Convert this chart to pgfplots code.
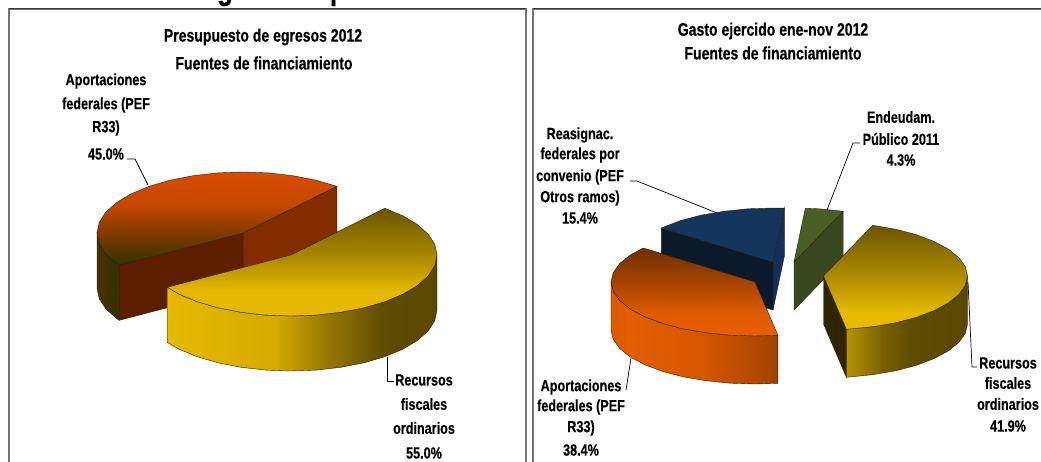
\documentclass[border=0pt]{standalone}
\usepackage{pgfplots}
\pgfplotsset{compat=1.18}
\usepackage{fontspec}
\newfontfamily\labfont{Liberation Sans}[FakeStretch=0.78,BoldFeatures={FakeBold=0.35}]

% Slice colours
\definecolor{yA}{HTML}{E6BA00}\definecolor{yB}{HTML}{E3B700}\definecolor{yC}{HTML}{B08D00}
\definecolor{yD}{HTML}{6B5500}\definecolor{yE}{HTML}{D5AB00}\definecolor{yF}{HTML}{957700}
\definecolor{yG}{HTML}{5F4C00}\definecolor{yH}{HTML}{5A4800}\definecolor{yI}{HTML}{B79300}
\definecolor{yJ}{HTML}{7A6100}\definecolor{yK}{HTML}{2F2600}
\definecolor{oA}{HTML}{D94C00}\definecolor{oB}{HTML}{C44700}\definecolor{oC}{HTML}{7F3A00}
\definecolor{oD}{HTML}{2E3400}\definecolor{oE}{HTML}{4A3000}\definecolor{oF}{HTML}{333000}
\definecolor{oG}{HTML}{5E1F00}\definecolor{oH}{HTML}{822C00}
\definecolor{rA}{HTML}{6E3000}\definecolor{rB}{HTML}{A84400}\definecolor{rC}{HTML}{E05C00}
\definecolor{rD}{HTML}{E85F00}\definecolor{rE}{HTML}{DA5900}\definecolor{rF}{HTML}{E55E00}
\definecolor{rG}{HTML}{D65700}\definecolor{rH}{HTML}{B54A00}\definecolor{rI}{HTML}{A24300}
\definecolor{bA}{HTML}{14355C}\definecolor{bB}{HTML}{0A1A2B}\definecolor{bC}{HTML}{12305A}
\definecolor{gA}{HTML}{4A5F25}\definecolor{gB}{HTML}{3A4820}
\definecolor{edge}{HTML}{2A2000}

% Shadings: the path's bounding box spans 25bp to 75bp
\pgfdeclareverticalshading{leftYellowTop}{100bp}{color(0bp)=(yA);color(25bp)=(yA);color(37bp)=(yB);color(51bp)=(yC);color(75bp)=(yD);color(100bp)=(yD)}
\pgfdeclarehorizontalshading{leftYellowWall}{100bp}{color(0bp)=(yA);color(25bp)=(yA);color(45bp)=(yE);color(55bp)=(yF);color(65bp)=(yG);color(75bp)=(yH);color(100bp)=(yH)}
\pgfdeclareverticalshading{leftOrangeTop}{100bp}{color(0bp)=(oD);color(25bp)=(oD);color(42bp)=(oC);color(57bp)=(oB);color(75bp)=(oA);color(100bp)=(oA)}
\pgfdeclarehorizontalshading{leftOrangeWall}{100bp}{color(0bp)=(oE);color(25bp)=(oE);color(75bp)=(oF);color(100bp)=(oF)}
\pgfdeclareverticalshading{rightYellowTop}{100bp}{color(0bp)=(yA);color(25bp)=(yA);color(33bp)=(yA);color(50bp)=(yC);color(75bp)=(yD);color(100bp)=(yD)}
\pgfdeclarehorizontalshading{rightYellowWall}{100bp}{color(0bp)=(yI);color(25bp)=(yI);color(40bp)=(yJ);color(52bp)=(yG);color(75bp)=(yH);color(100bp)=(yH)}
\pgfdeclareverticalshading{rightOrangeTop}{100bp}{color(0bp)=(rD);color(25bp)=(rD);color(37bp)=(rC);color(55bp)=(rB);color(75bp)=(rA);color(100bp)=(rA)}
\pgfdeclarehorizontalshading{rightOrangeWall}{100bp}{color(0bp)=(rE);color(25bp)=(rE);color(30bp)=(rF);color(52bp)=(rG);color(67bp)=(rH);color(75bp)=(rI);color(100bp)=(rI)}

\tikzset{
  lab/.style={inner sep=0pt,font=\labfont\bfseries\fontsize{16.2bp}{18bp}\selectfont,text=black,anchor=center},
  ttl/.style={inner sep=0pt,font=\labfont\bfseries\fontsize{18bp}{20bp}\selectfont,text=black,anchor=center},
  head/.style={inner sep=0pt,anchor=base,font=\labfont\bfseries\fontsize{34bp}{36bp}\selectfont}
}
\pgfplotsset{
  face/.style={shade,shading=#1,draw=edge,line width=0.4pt},
  flat/.style={fill=#1,draw=edge,line width=0.4pt},
  leader/.style={draw=black,line width=0.7pt},
}

\begin{document}
\begin{tikzpicture}
\useasboundingbox (0,0) rectangle (1041bp,462bp);
\begin{axis}[
  at={(0,0)},anchor=south west,
  scale only axis,width=1041bp,height=462bp,
  xmin=0,xmax=1041,ymin=0,ymax=462,y dir=reverse,
  hide axis,clip=true,no markers]

% Panel frames
\addplot[draw=gray!90!black,line width=1.1pt] coordinates {(9,463) (9,9) (526,9) (526,463)};
\addplot[draw=gray!90!black,line width=1.1pt] coordinates {(533,463) (533,9) (1042,9)};
\addplot[draw=black!80,line width=0.8pt] coordinates {(9,8.5) (526,8.5)};
\addplot[draw=black!80,line width=0.8pt] coordinates {(533,8.5) (1042,8.5)};

% ---- Presupuesto: aportaciones 45.0 %, recursos fiscales 55.0 %, depth 55 ----
\addplot[flat=oH] coordinates {(243,233) (336.8,186.3) (336.8,241.3) (243,288)} -- cycle;
\addplot[flat=oG] coordinates {(119.2,265.3) (243,233) (243,288) (119.2,320.3)} -- cycle;
\addplot[face=leftOrangeWall] coordinates {(97,233) (99.2,243.6) (105.8,253.9) (116.6,263.5) (119.2,265.3)
  (119.2,320.3) (116.6,318.5) (105.8,308.9) (99.2,298.6) (97,288)} -- cycle;
\addplot[face=leftOrangeTop] coordinates {(336.8,186.3) (316,180.2) (292.9,175.7) (268.4,172.9) (243,172)
  (217.6,172.9) (193.1,175.7) (170,180.2) (149.2,186.3) (131.2,193.8) (116.6,202.5) (105.8,212.1)
  (99.2,222.4) (97,233) (99.2,243.6) (105.8,253.9) (116.6,263.5) (119.2,265.3) (243,233)} -- cycle;

\addplot[face=leftYellowWall] coordinates {(167.2,287.3) (179.2,294.2) (197.2,301.7) (218,307.8) (241.1,312.3)
  (265.6,315.1) (291,316) (316.4,315.1) (340.9,312.3) (364,307.8) (384.8,301.7) (402.8,294.2) (417.4,285.5)
  (428.2,275.9) (434.8,265.6) (437,255) (437,310) (434.8,320.6) (428.2,330.9) (417.4,340.5) (402.8,349.2)
  (384.8,356.7) (364,362.8) (340.9,367.3) (316.4,370.1) (291,371) (265.6,370.1) (241.1,367.3) (218,362.8)
  (197.2,356.7) (179.2,349.2) (167.2,342.3)} -- cycle;
\addplot[face=leftYellowTop] coordinates {(167.2,287.3) (179.2,294.2) (197.2,301.7) (218,307.8) (241.1,312.3)
  (265.6,315.1) (291,316) (316.4,315.1) (340.9,312.3) (364,307.8) (384.8,301.7) (402.8,294.2) (417.4,285.5)
  (428.2,275.9) (434.8,265.6) (437,255) (434.8,244.4) (428.2,234.1) (417.4,224.5) (402.8,215.8) (384.8,208.3)
  (291,255)} -- cycle;

\addplot[leader] coordinates {(127,159) (135,159) (148,185)};
\addplot[leader] coordinates {(387,357) (387,381) (394,381)};

% ---- Gasto ejercido: recursos 41.9, aportaciones 38.4, reasignaciones 15.4, endeudamiento 4.3 %, depth 48 ----
\addplot[flat=bC] coordinates {(784.3,208.2) (773,262) (773,310) (784.3,256.2)} -- cycle;
\addplot[flat=bB] coordinates {(661.3,228) (773,262) (773,310) (661.3,276)} -- cycle;
\addplot[flat=bA] coordinates {(661.3,228) (680.4,220.6) (701,215.2) (723.8,211.3) (748,208.8) (773,208)
  (784.3,208.2) (773,262)} -- cycle;

\addplot[flat=gB] coordinates {(843.2,211.3) (794,262) (794,310) (843.2,259.3)} -- cycle;
\addplot[flat=gA] coordinates {(805.3,208.2) (819,208.8) (843.2,211.3) (794,262)} -- cycle;

\addplot[face=rightOrangeWall] coordinates {(611,282) (613.2,291.4) (619.7,300.5) (630.3,309) (644.7,316.7)
  (662.4,323.4) (683,328.8) (705.8,332.7) (730,335.2) (755,336) (777.9,335.3) (777.9,383.3) (755,384)
  (730,383.2) (705.8,380.7) (683,376.8) (662.4,371.4) (644.7,364.7) (630.3,357) (619.7,348.5) (613.2,339.4)
  (611,330)} -- cycle;
\addplot[face=rightOrangeTop] coordinates {(777.9,335.3) (755,336) (730,335.2) (705.8,332.7) (683,328.8)
  (662.4,323.4) (644.7,316.7) (630.3,309) (619.7,300.5) (613.2,291.4) (611,282) (613.2,272.6) (619.7,263.5)
  (630.3,255) (643.3,248) (755,282)} -- cycle;

\addplot[flat=yK] coordinates {(823.5,276) (846.4,329.3) (846.4,377.3) (823.5,324)} -- cycle;
\addplot[face=rightYellowWall] coordinates {(846.4,329.3) (872.7,326.7) (895.5,322.8) (916.1,317.4) (933.8,310.7)
  (948.2,303) (958.8,294.5) (965.3,285.4) (967.5,276) (967.5,324) (965.3,333.4) (958.8,342.5) (948.2,351)
  (933.8,358.7) (916.1,365.4) (895.5,370.8) (872.7,374.7) (846.4,377.3)} -- cycle;
\addplot[face=rightYellowTop] coordinates {(872.7,225.3) (895.5,229.2) (916.1,234.6) (933.8,241.3) (948.2,249)
  (958.8,257.5) (965.3,266.6) (967.5,276) (965.3,285.4) (958.8,294.5) (948.2,303) (933.8,310.7) (916.1,317.4)
  (895.5,322.8) (872.7,326.7) (846.4,329.3) (823.5,276)} -- cycle;

\addplot[leader] coordinates {(630,181) (637,181) (717,213)};
\addplot[leader] coordinates {(860,143) (853,143) (827,210)};
\addplot[leader] coordinates {(968,282) (972,367) (977,367)};
\addplot[leader] coordinates {(631,358) (626,390)};

% Page heading, of which only the descenders stay inside the sheet
\node[head] at (axis cs:225,-1) {g};
\node[head] at (axis cs:338,-1) {p};

% Panel titles
\node[ttl] at (axis cs:263,37) {Presupuesto de egresos 2012};
\node[ttl] at (axis cs:264,63) {Fuentes de financiamiento};
\node[ttl] at (axis cs:773,31) {Gasto ejercido ene-nov 2012};
\node[ttl] at (axis cs:773,53) {Fuentes de financiamiento};

% Slice labels
\node[lab] at (axis cs:106,81)  {Aportaciones};
\node[lab] at (axis cs:106,105) {federales (PEF};
\node[lab] at (axis cs:106,128) {R33)};
\node[lab] at (axis cs:106,154) {45.0\%};
\node[lab] at (axis cs:424,380) {Recursos};
\node[lab] at (axis cs:424,404) {fiscales};
\node[lab] at (axis cs:424,428) {ordinarios};
\node[lab] at (axis cs:424,453) {55.0\%};

\node[lab] at (axis cs:580,135) {Reasignac.};
\node[lab] at (axis cs:580,155) {federales por};
\node[lab] at (axis cs:580,177) {convenio (PEF};
\node[lab] at (axis cs:580,198) {Otros ramos)};
\node[lab] at (axis cs:580,218) {15.4\%};
\node[lab] at (axis cs:901,117) {Endeudam.};
\node[lab] at (axis cs:901,139) {Público 2011};
\node[lab] at (axis cs:901,160) {4.3\%};
\node[lab] at (axis cs:1008,363) {Recursos};
\node[lab] at (axis cs:1008,383) {fiscales};
\node[lab] at (axis cs:1008,404) {ordinarios};
\node[lab] at (axis cs:1008,426) {41.9\%};
\node[lab] at (axis cs:581,387) {Aportaciones};
\node[lab] at (axis cs:581,407) {federales (PEF};
\node[lab] at (axis cs:581,428) {R33)};
\node[lab] at (axis cs:581,450) {38.4\%};
\end{axis}
\end{tikzpicture}
\end{document}
